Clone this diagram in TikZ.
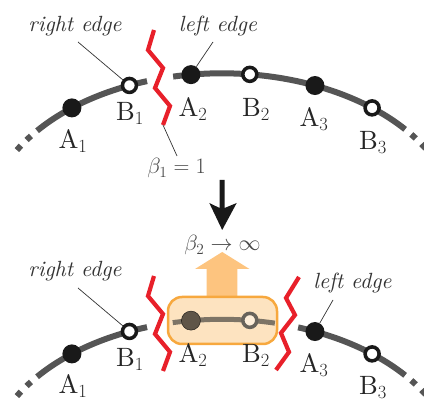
\RequirePackage{fix-cm}
\documentclass[tikz,border=0pt]{standalone}
\usepackage{fontspec}
\setmainfont{lmroman10-regular}[Extension=.otf, ItalicFont=lmroman10-italic]
\definecolor{arcgray}{HTML}{555555}
\definecolor{zred}{HTML}{E8202A}
\definecolor{obox}{HTML}{FDE3C0}
\definecolor{oborder}{HTML}{F7A83E}
\definecolor{oarrow}{HTML}{FDC47F}
\definecolor{txtgray}{HTML}{333333}
\definecolor{dimline}{HTML}{7D7466}
\definecolor{dimdot}{HTML}{5F5548}
\tikzset{
  declare function={ex(\t)=222+235*cos(\t); ey(\t)=223.3-150*sin(\t);},
  arcline/.style={line width=6pt, draw=arcgray},
  arcdots/.style={line width=6pt, draw=arcgray, dash pattern=on 6pt off 8pt, dash phase=6pt},
  fdot/.style={circle, fill=black!90, minimum size=19pt, inner sep=0pt},
  odot/.style={circle, draw=black!90, line width=3.5pt, fill=white, minimum size=14pt, inner sep=0pt},
  lab/.style={anchor=base, font=\fontsize{26.5}{30}\selectfont, text=black!85},
  edgelab/.style={anchor=base, font=\fontsize{22}{26}\selectfont\itshape, text=txtgray},
  betalab/.style={anchor=base, font=\fontsize{22}{26}\selectfont, text=black!72},
  leader/.style={draw=txtgray, line width=0.7pt},
  zig/.style={draw=zred, line width=4.2pt, line join=miter},
}
\begin{document}
\begin{tikzpicture}[x=1pt, y=-1pt]
\useasboundingbox (0,0) rectangle (424,403);

% ---------- top arc ----------
\draw[arcline] plot[domain=108.6:141.9, samples=30] ({ex(\x)},{ey(\x)});
\draw[arcdots] plot[domain=141.9:151.5, samples=10] ({ex(\x)},{ey(\x)});
\draw[arcline] plot[domain=102.0:38.8, samples=50] ({ex(\x)},{ey(\x)});
\draw[arcdots] plot[domain=38.8:29.2, samples=10] ({ex(\x)},{ey(\x)});

% zigzag top
\draw[zig] (154,30) -- (148,50) -- (163,68) -- (155,88) -- (170,106) -- (163,125) coordinate (zte);

% dots top
\node[fdot] (A1t) at ({ex(129.7)},{ey(129.7)}) {};
\node[odot] (B1t) at ({ex(113.2)},{ey(113.2)}) {};
\node[fdot] (A2t) at ({ex(97.6)},{ey(97.6)}) {};
\node[odot] (B2t) at ({ex(83.2)},{ey(83.2)}) {};
\node[fdot] (A3t) at ({ex(66.7)},{ey(66.7)}) {};
\node[odot] (B3t) at ({ex(50.3)},{ey(50.3)}) {};

% labels top
\node[lab] (lA1t) at (73,149) {A$_1$};
\node[lab] (lB1t) at (130,121) {B$_1$};
\node[lab] (lA2t) at (193,117) {A$_2$};
\node[lab] (lB2t) at (256,117) {B$_2$};
\node[lab] (lA3t) at (314,127) {A$_3$};
\node[lab] (lB3t) at (373,150) {B$_3$};

\node[edgelab] (reT) at (75,32) {right edge};
\node[edgelab] (leT) at (218,32) {left edge};
\coordinate (reTs) at (78,42);
\coordinate (leTs) at (213,42);
\draw[leader] (reTs) -- (B1t);
\draw[leader] (leTs) -- (A2t);

\node[betalab] (b1) at (176.5,174) {$\beta_1 = 1$};
\coordinate (b1s) at (177,156);
\draw[leader] (b1s) -- (zte);

% ---------- black arrow ----------
\fill[black!90] (219.6,180) -- (224.6,180) -- (224.6,208) -- (236.7,203) -- (222.2,230) -- (209.3,203) -- (219.6,208) -- cycle;

\node[betalab] (b2) at (222.5,251) {$\beta_2 \rightarrow \infty$};

% ---------- bottom arc ----------
\begin{scope}[yshift=-246pt]
\draw[arcline] plot[domain=108.6:141.9, samples=30] ({ex(\x)},{ey(\x)});
\draw[arcdots] plot[domain=141.9:151.5, samples=10] ({ex(\x)},{ey(\x)});
\draw[arcline] plot[domain=71.1:38.8, samples=30] ({ex(\x)},{ey(\x)});
\draw[arcdots] plot[domain=38.8:29.2, samples=10] ({ex(\x)},{ey(\x)});
\end{scope}

% orange arrow
\fill[oarrow] (206.7,297) -- (206.7,269) -- (195,269) -- (222.2,252) -- (249.5,269) -- (237.3,269) -- (237.3,297) -- cycle;

% orange box
\fill[obox, rounded corners=14pt] (168,297) rectangle (277,344);
\begin{scope}[yshift=-246pt]
\draw[line width=5pt, draw=dimline] plot[domain=102.1:77.0, samples=30] ({ex(\x)},{ey(\x)});
\node[circle, fill=dimdot, draw=black!60!dimdot, line width=0.5pt, minimum size=19pt, inner sep=0pt] (A2b) at ({ex(97.6)},{ey(97.6)}) {};
\node[circle, draw=dimdot!70!black!80, line width=3.5pt, fill=obox!60!white, minimum size=14pt, inner sep=0pt] (B2b) at ({ex(83.2)},{ey(83.2)}) {};
\end{scope}
\draw[oborder, line width=2.5pt, rounded corners=14pt] (168,297) rectangle (277,344);

% zigzags bottom
\draw[zig] (154,276) -- (148,296) -- (163,314) -- (155,334) -- (170,352) -- (163,371);
\draw[zig] (299,277) -- (286,298) -- (295,315) -- (281,333) -- (289,352) -- (276,370);

% dots bottom
\begin{scope}[yshift=-246pt]
\node[fdot] (A1b) at ({ex(129.7)},{ey(129.7)}) {};
\node[odot] (B1b) at ({ex(113.2)},{ey(113.2)}) {};
\node[fdot] (A3b) at ({ex(66.7)},{ey(66.7)}) {};
\node[odot] (B3b) at ({ex(50.3)},{ey(50.3)}) {};
\end{scope}

% labels bottom
\node[lab] (lA1b) at (73,394) {A$_1$};
\node[lab] (lB1b) at (130,367) {B$_1$};
\node[lab] (lA2b) at (193,363) {A$_2$};
\node[lab] (lB2b) at (256,363) {B$_2$};
\node[lab] (lA3b) at (314,373) {A$_3$};
\node[lab] (lB3b) at (373,395) {B$_3$};

\node[edgelab] (reB) at (75,277) {right edge};
\node[edgelab] (leB) at (352.5,289) {left edge};
\coordinate (reBs) at (78,288);
\coordinate (leBs) at (333,300);
\draw[leader] (reBs) -- (B1b);
\draw[leader] (leBs) -- (A3b);
\end{tikzpicture}
\end{document}
